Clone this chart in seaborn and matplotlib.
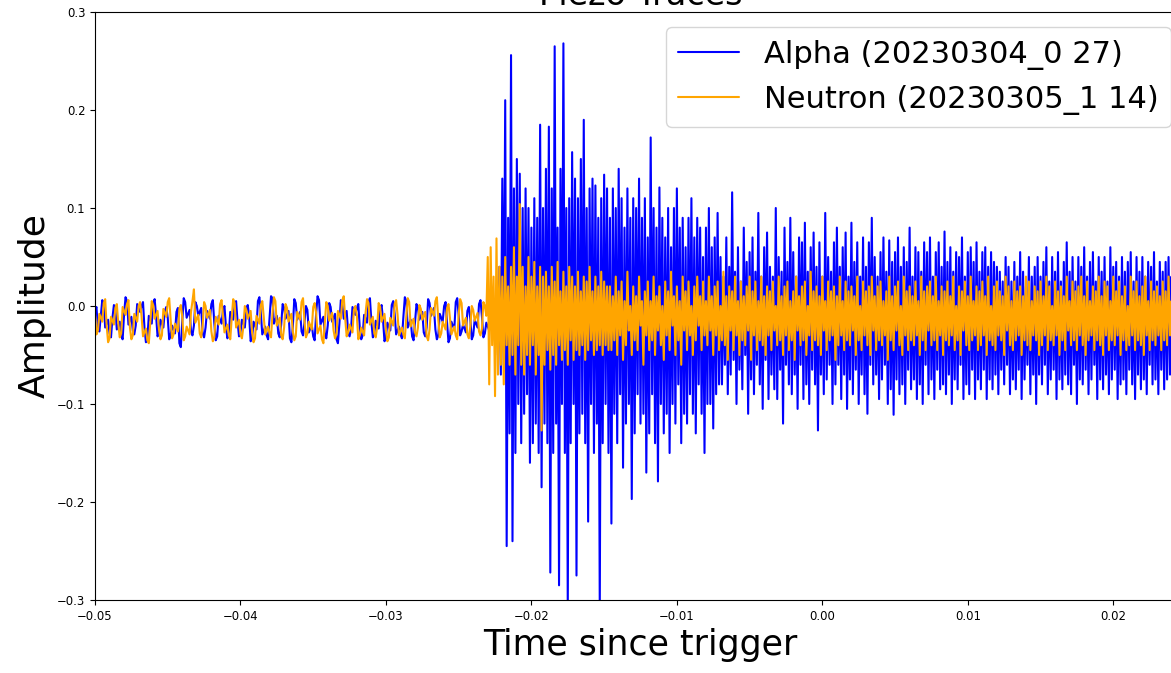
import numpy as np
import pandas as pd
import matplotlib
matplotlib.use("Agg")
import matplotlib.pyplot as plt
import seaborn as sns

# ---- data (amplitudes in thousandths, sampled every dt seconds from t_start) ----
t_start = -0.05
dt = 0.0001
alpha_label = "Alpha (20230304_0 27)"
neutron_label = "Neutron (20230305_1 14)"

alpha_baseline = [
    -5, -1, -22, -26, -10, 6, 2, -22, -18, -14, -28, -32, -12, 1, -3, -24, -20, -16, -30, -34,
    -8, 9, 5, -19, -15, -11, -25, -29, -20, 2, -2, -6, 0, 4, -22, -37, -33, -10, -14, -18,
    3, 7, -10, -31, -27, -14, -18, -22, -5, -1, -12, -34, -30, -20, -24, -28, -6, -2, -38, -42,
    -15, 8, 4, -12, -8, -4, -26, -30, -20, 4, 0, -10, -6, -2, -28, -32, -22, -5, -9, -13,
    2, 6, -17, -35, -31, -10, -14, -18, -4, 0, -21, -33, -29, -6, -10, -14, 1, 5, -16, -31,
    -27, -14, -18, -22, -3, 1, -11, -36, -32, -16, -20, -24, 5, 9, -7, -29, -25, -21, -30, -34,
    -12, 10, 8, -18, -14, -10, -28, -32, -19, 2, -2, -13, -9, -5, -33, -37, -21, 7, 3, -14,
    -10, -6, -26, -30, -17, 0, -4, -27, -23, -19, -31, -35, -8, 10, 6, -19, -15, -11, -29, -33,
    -20, 3, -1, -16, -12, -8, -34, -38, -18, 6, 2, -13, -9, -5, -27, -31, -24, -1, -5, -9,
    -2, 2, -22, -34, -30, -9, -13, -17, 4, 8, -16, -32, -28, -15, -19, -23, -3, 1, -14, -36,
    -32, -17, -21, -25, 1, 5, -8, -29, -25, -21, -29, -33, -11, 9, 5, -22, -18, -14, -31, -35,
    -16, 2, -2, -14, -10, -6, -27, -31, -22, 7, 3, -10, -6, -2, -24, -34, -30, -8, -12, -16,
    0, 4, -17, -37, -33, -16, -20, -24, 4, 8, -9, -30, -26, -19, -23, -27, -5, -1, -13, -34,
    -30, -14, -18, -22, 2, 6, -11, -32, -28, -17, -21, -25, -6, -2,
]
alpha_burst = [
    -10, -30, 10, -50, 40, -70, 130, -60, 210, -245, 90, -130, 256, -240, 120, -150, 150, -100, 135, -140,
    100, -110, 120, -90, 100, -160, 80, -140, 110, -120, 90, -150, 185, -185, 100, -120, 140, -140, 183, -272,
    120, -150, 265, -120, 80, -285, 140, -100, 268, -150, 100, -310, 110, -140, 157, -100, 130, -275, 110, -130,
    150, -110, 190, -140, 100, -220, 120, -100, 130, -150, 123, -120, 90, -310, 110, -140, 134, -100, 120, -150,
    90, -222, 120, -110, 100, -140, 140, -90, 110, -165, 80, -120, 120, -100, 90, -197, 110, -130, 100, -90,
    130, -120, 90, -110, 110, -170, 70, -130, 172, -90, 100, -140, 80, -179, 121, -100, 90, -130, 70, -110,
    100, -150, 60, -100, 100, -120, 120, -80, 80, -140, 90, -110, 60, -120, 90, -90, 110, -110, 70, -130,
    90, -80, 80, -110, 50, -150, 80, -100, 100, -100, 60, -125, 70, -90, 95, -80,
]
alpha_tail = [
    50, -80, 30, -60, 70, -90, 40, -70, 116, -55, 35, -100, 60, -65, 25, -85, 80, -50, 45, -110,
    55, -75, 70, -90, 35, -60, 95, -80, 30, -105, 60, -55, 75, -95, 40, -70, 30, -85, 100, -95,
    50, -65, 35, -120, 80, -60, 45, -80, 90, -90, 55, -70, 30, -105, 70, -60, 65, -95, 85, -80,
    35, -100, 60, -65, 75, -80, 40, -127, 65, -70, 30, -90, 95, -75, 50, -60, 35, -100, 65, -80,
    80, -60, 40, -95, 60, -70, 75, -105, 30, -75, 85, -90, 45, -65, 65, -100, 30, -70, 70, -90,
    40, -110, 65, -60, 90, -80, 50, -70, 30, -95, 55, -75, 70, -60, 35, -100, 67, -85, 45, -111,
    55, -75, 70, -90, 40, -80, 60, -100, 45, -65, 80, -85, 30, -75, 60, -95, 55, -80, 35, -100,
    65, -60, 55, -90, 70, -75, 30, -95, 55, -65, 65, -85, 40, -80, 76, -90, 45, -70, 60, -100,
    35, -75, 55, -85, 50, -60, 70, -95, 30, -80, 55, -90, 60, -65, 45, -95, 65, -75, 35, -85,
    55, -65, 60, -95, 40, -75, 55, -85, 45, -70, 40, -90, 35, -65, 25, -80, 50, -60, 40, -90,
    25, -75, 45, -85, 30, -65, 55, -95, 35, -75, 20, -60, 50, -90, 30, -70, 40, -100, 50, -70,
    30, -80, 45, -60, 60, -90, 25, -75, 50, -65, 35, -95, 55, -75, 25, -85, 45, -70, 65, -80,
    35, -90, 50, -60, 25, -100, 50, -75, 40, -80, 60, -65, 30, -90, 45, -75, 55, -60, 25, -95,
    50, -75, 35, -85, 50, -70, 25, -90, 60, -75, 40, -65, 45, -95, 30, -80, 50, -75, 35, -90,
    45, -65, 55, -80, 25, -95, 50, -70, 35, -85, 50, -75, 30, -90, 45, -60, 40, -80, 55, -75,
    25, -90, 45, -65, 35, -85, 45, -75, 50, -70, 30, -90, 40, -75, 45, -80, 25, -65,
]

neutron_baseline = [
    -8, -29, -25, -8, -12, -16, 3, 7, -20, -37, -33, -11, -15, -19, -2, 2, -18, -32, -28, -1,
    -5, -9, 2, 6, -22, -34, -30, -8, -12, -16, 0, 4, -10, -31, -27, -23, -35, -38, -16, 5,
    1, -13, -9, -5, -24, -34, -30, -3, -7, -11, 4, 8, -14, -33, -29, -18, -22, -26, -3, 1,
    -11, -35, -31, -21, -25, -29, -6, 5, 17, -17, -13, -9, -28, -32, -20, 4, 0, -12, -8, -4,
    -26, -36, -32, -11, -15, -19, 2, 6, -10, -27, -23, -19, -30, -34, -12, 7, 3, -22, -18, -14,
    -29, -33, -21, 0, -4, -13, -9, -5, -27, -37, -33, -10, -14, -18, 1, 5, -11, -29, -25, -21,
    -28, -32, -8, 9, 5, -20, -16, -12, -30, -34, -22, 2, -2, -16, -12, -8, -26, -35, -31, -6,
    -10, -14, 4, 8, -15, -32, -28, -16, -20, -24, -1, 3, -7, -28, -24, -20, -34, -38, -17, 4,
    0, -15, -11, -7, -25, -33, -29, -5, -9, -13, 6, 10, -13, -31, -27, -19, -23, -27, -4, 0,
    -10, -34, -30, -22, -26, -30, -7, 7, 3, -19, -15, -11, -28, -32, -21, 3, -1, -16, -12, -8,
    -24, -36, -32, -12, -16, -20, 2, 6, -9, -30, -26, -22, -29, -33, -11, 8, 4, -21, -17, -13,
    -27, -31, -22, 1, -3, -14, -10, -6, -31, -35, -24, -2, -6, -10, 5, 9, -14, -32, -28, -16,
    -20, -24, -2, 2, -12, -29, -25, -21, -30, -34, -9, 7, 3, -20, -16, -12, -29, -33, -21, 0,
    -4, -15, -11, -7, -26, -30, -23, 4, 0, -10,
]
neutron_burst = [
    50, -80, 60, -40, 30, -92, 69, -70, 40, -60, 30, -80, 50, -40, 20, -60, 40, -50, 60, -70,
    30, -40, 104, -60, 40, -70, 20, -50, 50, -60, 30, -40, 45, -70, 20, -50, 40, -127, 30, -60,
    35, -45, 20, -65, 40, -50, 25, -60, 45, -40, 15, -55, 35, -45, 20, -60, 40, -35, 30, -55,
    20, -45, 35, -50, 15, -40, 30, -55, 25, -45, 40, -35, 15, -50, 30, -45, 20, -40, 35, -50,
    25, -40, 20, -45,
]
neutron_tail = [
    20, -45, 10, -35, 30, -50, 15, -30, 25, -55, 5, -40, 35, -25, 0, -50, 20, -35, 10, -45,
    30, -20, 5, -60, 15, -30, 25, -45, 5, -35, 30, -50, 10, -25, 20, -40, 0, -55, 25, -30,
    15, -45, 35, -20, 10, -50, 20, -35, 5, -60, 30, -25, 15, -45, 25, -30, 0, -50, 20, -35,
    30, -20, 10, -45, 25, -30, 5, -40, 30, -25, 10, -50, 20, -30, 25, -45, 0, -35, 35, -40,
    10, -55, 20, -25, 15, -45, 30, -30, 5, -50, 25, -35, 10, -40, 20, -25, 30, -55, 15, -30,
    25, -45, 5, -35, 30, -40, 10, -50, 20, -30, 15, -45, 25, -25, 0, -40, 30, -35, 10, -50,
    20, -30, 25, -45, 5, -35, 15, -55, 30, -25, 10, -40, 20, -35, 25, -50, 0, -30, 35, -45,
    15, -35, 20, -40, 10, -50, 30, -25, 5, -45, 25, -35, 15, -30, 20, -55, 10, -40, 30, -30,
    5, -45, 25, -35, 15, -40, 20, -25, 10, -50, 30, -35, 0, -45, 25, -30, 15, -40, 20, -50,
    30, -25, 10, -45, 20, -35, 25, -40, 5, -30, 15, -55, 30, -35, 10, -45, 20, -25, 25, -40,
    0, -50, 30, -30, 15, -45, 20, -35, 10, -40, 25, -30, 5, -50, 30, -35, 15, -45, 20, -25,
    25, -40, 10, -35, 30, -45, 5, -30, 20, -50, 15, -35, 25, -40, 10, -30, 30, -45, 0, -35,
    20, -50, 15, -25, 25, -40, 10, -45, 30, -35, 5, -30, 20, -45, 15, -40, 25, -30, 10, -50,
    30, -35, 0, -40, 20, -45, 25, -30, 15, -35, 10, -50, 30, -25, 20, -40, 5, -45, 25, -35,
    15, -30, 20, -50, 10, -35, 30, -40, 25, -45, 5, -30, 20, -35, 15, -50, 25, -40, 10, -30,
    30, -45, 20, -35, 0, -40, 25, -30, 15, -50, 20, -35, 10, -45, 30, -25, 5, -40, 25, -35,
    15, -45, 20, -30, 30, -40, 10, -50, 25, -35, 5, -30, 20, -45, 15, -35, 30, -40, 10, -50,
    25, -30, 20, -45, 5, -35, 30, -40, 15, -30, 25, -50, 10, -35, 20, -45, 0, -40, 30, -30,
    15, -45, 25, -35, 10, -40, 20, -50, 30, -30, 5, -45, 25, -35, 15, -40, 20, -30, 10, -45,
    25, -35, 15, -40, 30, -30, 5, -45, 20, -35, 10, -40, 25, -30,
]

x_ticks = [-0.05, -0.04, -0.03, -0.02, -0.01, 0.00, 0.01, 0.02]
y_ticks = [-0.3, -0.2, -0.1, 0.0, 0.1, 0.2, 0.3]

# ---- style ----
sns.set_style("ticks")
plt.rcParams["font.family"] = ["DejaVu Sans"]
plt.rcParams["text.color"] = "black"
plt.rcParams["axes.labelcolor"] = "black"
plt.rcParams["xtick.color"] = "black"
plt.rcParams["ytick.color"] = "black"

fig = plt.figure(figsize=(11.71, 6.73), dpi=100)
ax = fig.add_axes([95 / 1171, 73 / 673, 1091 / 1171, 588 / 673])

alpha_vals = np.array(alpha_baseline + alpha_burst + alpha_tail) / 1000.0
neutron_vals = np.array(neutron_baseline + neutron_burst + neutron_tail) / 1000.0

df_alpha = pd.DataFrame({"t": t_start + dt * np.arange(len(alpha_vals)), "amp": alpha_vals})
df_neutron = pd.DataFrame({"t": t_start + dt * np.arange(len(neutron_vals)), "amp": neutron_vals})

sns.lineplot(data=df_alpha, x="t", y="amp", color="blue", linewidth=1.5,
             label=alpha_label, estimator=None, sort=False, ax=ax)
sns.lineplot(data=df_neutron, x="t", y="amp", color="orange", linewidth=1.5,
             label=neutron_label, estimator=None, sort=False, ax=ax)

ax.set_xlim(-0.05, 0.025)
ax.set_ylim(-0.3, 0.3)
ax.set_xticks(x_ticks)
ax.set_yticks(y_ticks)
ax.tick_params(labelsize=8.4, length=3.5, width=0.8)
for sp in ax.spines.values():
    sp.set_color("black")
    sp.set_linewidth(0.8)

ax.set_xlabel("Time since trigger", fontsize=25)
ax.set_ylabel("Amplitude", fontsize=26)
ax.set_title("Piezo Traces", fontsize=24, pad=3.5)
ax.legend(loc="upper right", fontsize=22, frameon=True)

fig.savefig("out.png", dpi=100)
